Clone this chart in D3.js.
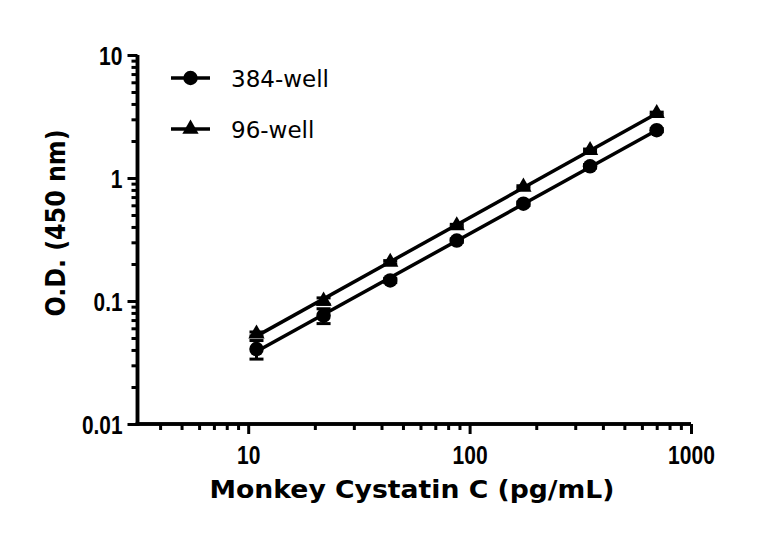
<!DOCTYPE html>
<html><head><meta charset="utf-8">
<script src="https://cdn.jsdelivr.net/npm/d3@7"></script>
<style>
html,body{margin:0;padding:0;background:#fff;}
svg{display:block;}
</style></head>
<body>
<svg id="chart" width="768" height="534"></svg>
<script>
// ---- data ----
const concentrations = [10.9, 21.9, 43.8, 87.5, 175, 350, 700]; // pg/mL
const od384 = [0.0407, 0.076, 0.147, 0.31, 0.618, 1.245, 2.45];
const err384 = [0.007, 0.0105, 0.006, 0.01, 0.02, 0.04, 0.07];
const od96 = [0.054, 0.100, 0.207, 0.41, 0.845, 1.68, 3.35];
const err96 = [0.002, 0.006, 0.006, 0.01, 0.02, 0.04, 0.08];
const seriesNames = ["384-well", "96-well"];
const xTickValues = [10, 100, 1000];
const xTickLabels = ["10", "100", "1000"];
const yTickValues = [0.01, 0.1, 1, 10];
const yTickLabels = ["0.01", "0.1", "1", "10"];
const xTitle = "Monkey Cystatin C (pg/mL)";
const yTitle = "O.D. (450 nm)";

const svg = d3.select("#chart");
const x = d3.scaleLog().domain([Math.sqrt(10), 1000]).range([137.5, 691]);
const y = d3.scaleLog().domain([0.01, 10]).range([424, 55]);

const tickFont = "'Liberation Sans',Arial,sans-serif";

// minor ticks
function minorTicks(lo, hi) {
  const out = [];
  for (let d = Math.floor(Math.log10(lo)); d < Math.ceil(Math.log10(hi)); d++) {
    for (let k = 2; k <= 9; k++) {
      const v = k * Math.pow(10, d);
      if (v > lo * 1.0001 && v < hi * 0.9999) out.push(v);
    }
  }
  return out;
}
function condense(sel) {
  sel.each(function () {
    const t = d3.select(this), s = t.text();
    const digits = s.replace(/\./g, "").length, dots = s.length - digits;
    t.attr("textLength", digits * 11.7 + dots * 5.5).attr("lengthAdjust", "spacingAndGlyphs");
  });
}

// X axis
const xAxisG = svg.append("g").attr("transform", "translate(0,424)");
xAxisG.call(d3.axisBottom(x).tickValues(minorTicks(Math.sqrt(10), 1000)).tickSize(6).tickFormat(""));
xAxisG.append("g").call(d3.axisBottom(x).tickValues(xTickValues).tickSize(10)
  .tickFormat((d, i) => xTickLabels[i]).tickPadding(10));
xAxisG.selectAll("path.domain").attr("stroke", "#000").attr("stroke-width", 3.5);
xAxisG.selectAll(".tick line").attr("stroke", "#000").attr("stroke-width", 3);
xAxisG.selectAll(".tick text").attr("font-family", tickFont).attr("font-weight", "bold")
  .attr("font-size", 26).attr("fill", "#000").attr("dy", "0.75em").call(condense);

// Y axis
const yAxisG = svg.append("g").attr("transform", "translate(137.5,0)");
yAxisG.call(d3.axisLeft(y).tickValues(minorTicks(0.01, 10)).tickSize(6).tickFormat(""));
yAxisG.append("g").call(d3.axisLeft(y).tickValues(yTickValues).tickSize(10)
  .tickFormat((d, i) => yTickLabels[i]).tickPadding(5));
yAxisG.selectAll("path.domain").attr("stroke", "#000").attr("stroke-width", 3.5);
yAxisG.selectAll(".tick line").attr("stroke", "#000").attr("stroke-width", 3);
yAxisG.selectAll(".tick text").attr("font-family", tickFont).attr("font-weight", "bold")
  .attr("font-size", 26).attr("fill", "#000").attr("dy", "0.35em").call(condense);
// make axis corners meet
yAxisG.selectAll("path.domain").attr("d", `M0,${y(0.01)+1.75}V${y(10)}`);
xAxisG.selectAll("path.domain").attr("d", `M${x(Math.sqrt(10))-1.75},0H${x(1000)}`);

// Titles
svg.append("text").attr("x", 412).attr("y", 498).attr("text-anchor", "middle")
  .attr("font-family", "'DejaVu Sans',sans-serif").attr("font-weight", "bold")
  .attr("font-size", 24).attr("textLength", 405).attr("lengthAdjust", "spacingAndGlyphs")
  .text(xTitle);
svg.append("text").attr("transform", "translate(65,223) rotate(-90)").attr("text-anchor", "middle")
  .attr("font-family", "'DejaVu Sans',sans-serif").attr("font-weight", "bold")
  .attr("font-size", 26).attr("textLength", 187).attr("lengthAdjust", "spacingAndGlyphs")
  .text(yTitle);

// series
const series = [
  { name: seriesNames[0], vals: od384, errs: err384, symbol: d3.symbolCircle, size: 165 },
  { name: seriesNames[1], vals: od96, errs: err96, symbol: d3.symbolTriangle, size: 115 }
];

function fit(xs, ys) {
  const lx = xs.map(Math.log10), ly = ys.map(Math.log10);
  const mx = d3.mean(lx), my = d3.mean(ly);
  const b = d3.sum(lx.map((v, i) => (v - mx) * (ly[i] - my))) / d3.sum(lx.map(v => (v - mx) ** 2));
  const a = my - b * mx;
  return v => Math.pow(10, a + b * Math.log10(v));
}

const plot = svg.append("g");
series.forEach(s => {
  const f = fit(concentrations, s.vals);
  const ends = [d3.min(concentrations), d3.max(concentrations)];
  plot.append("path")
    .attr("d", d3.line().x(d => x(d)).y(d => y(f(d)))(ends))
    .attr("fill", "none").attr("stroke", "#000").attr("stroke-width", 3.5);
  // error bars
  concentrations.forEach((c, i) => {
    const lo = s.vals[i] - s.errs[i], hi = s.vals[i] + s.errs[i];
    const cx = x(c);
    plot.append("line").attr("x1", cx).attr("x2", cx).attr("y1", y(lo)).attr("y2", y(hi))
      .attr("stroke", "#000").attr("stroke-width", 3);
    [lo, hi].forEach(v => plot.append("line").attr("x1", cx - 7).attr("x2", cx + 7)
      .attr("y1", y(v)).attr("y2", y(v)).attr("stroke", "#000").attr("stroke-width", 3));
  });
  plot.selectAll(null).data(concentrations).enter().append("path")
    .attr("d", d3.symbol().type(s.symbol).size(s.size))
    .attr("transform", (d, i) => `translate(${x(d)},${y(s.vals[i])})`)
    .attr("fill", "#000");
});

// legend
const legend = svg.append("g");
series.forEach((s, i) => {
  const ly = 78 + i * 51;
  legend.append("line").attr("x1", 171).attr("x2", 210).attr("y1", ly).attr("y2", ly)
    .attr("stroke", "#000").attr("stroke-width", 3.5);
  legend.append("path").attr("d", d3.symbol().type(s.symbol).size(s.size))
    .attr("transform", `translate(190.5,${ly})`).attr("fill", "#000");
  legend.append("text").attr("x", 231).attr("y", ly + 8.5)
    .attr("font-family", "'DejaVu Sans',sans-serif").attr("font-size", 23).attr("fill", "#000")
    .text(s.name);
});
</script>
</body></html>
